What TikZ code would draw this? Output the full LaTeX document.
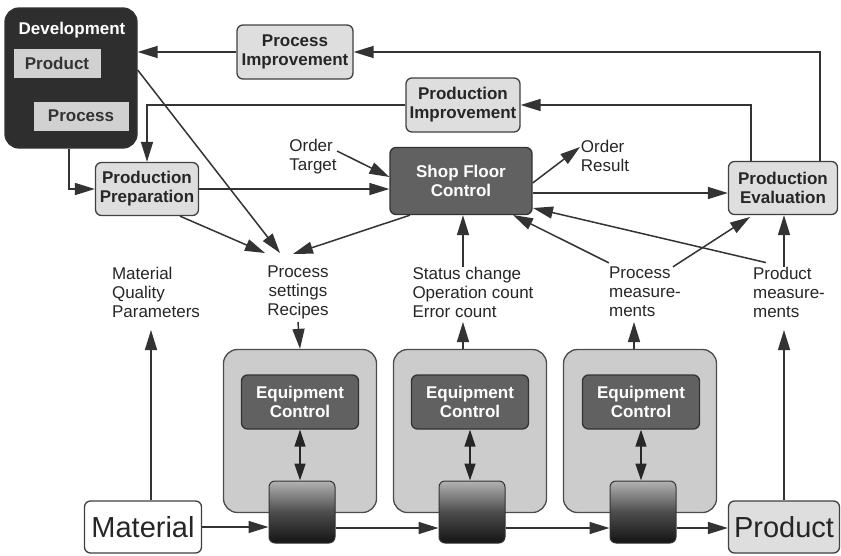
\documentclass[tikz,border=0pt]{standalone}
\usepackage{fontspec}
\setmainfont{Liberation Sans}
\usetikzlibrary{arrows.meta}
\usetikzlibrary{positioning}

\begin{document}
\begin{tikzpicture}[
    x=1pt, y=-1pt,
    every node/.style={font=\fontsize{17}{19}\selectfont, inner sep=0pt},
    lightbox/.style={draw=black!75, line width=1.3pt, rounded corners=6pt, fill=black!13, font=\fontsize{17}{19}\selectfont\bfseries, text=black!85, align=center},
    darkbox/.style={draw=black!80, line width=1.3pt, rounded corners=6pt, fill=black!62, font=\fontsize{17}{19}\selectfont\bfseries, text=white, align=center},
    innerbox/.style={fill=black!18, font=\fontsize{17}{19}\selectfont\bfseries, text=black!80},
    stationbox/.style={draw=black!70, line width=1.3pt, rounded corners=14pt, fill=black!20, minimum width=153pt, minimum height=163pt},
    machine/.style={draw=black!80, line width=1pt, rounded corners=6pt, top color=black!30, bottom color=black!92, middle color=black!70, minimum width=66pt, minimum height=62pt},
    endbox/.style={draw=black!75, line width=1.3pt, rounded corners=6pt, font=\fontsize{29}{30}\selectfont, text=black!85, minimum width=117pt, minimum height=52pt},
    infotext/.style={align=left, text=black!85},
    arr/.style={-{Triangle[length=20pt,width=12pt]}, line width=1.5pt, draw=black!80},
    darr/.style={{Triangle[length=17pt,width=11pt]}-{Triangle[length=17pt,width=11pt]}, line width=1.5pt, draw=black!85}
]
\useasboundingbox (0,0) rectangle (841,555);
% Development
\node[draw=black!80, line width=1.3pt, rounded corners=14pt, fill=black!82, minimum width=132pt, minimum height=140pt] (dev) at (71,78) {};
\node[font=\fontsize{17}{19}\selectfont\bfseries, text=white] (devtitle) at (72,30) {Development};
\node[innerbox, minimum width=87pt, minimum height=29pt] (devproduct) at (57,63) {Product};
\node[innerbox, minimum width=95pt, minimum height=29pt] (devprocess) at (81,116) {Process};
% Planning boxes
\node[lightbox, minimum width=116pt, minimum height=54pt] (procimp) at (295,52) {Process\\Improvement};
\node[lightbox, minimum width=114pt, minimum height=54pt] (prodimp) at (463,105) {Production\\Improvement};
\node[darkbox, minimum width=142pt, minimum height=67pt] (sfc) at (461,181) {Shop Floor\\Control};
\node[lightbox, minimum width=103pt, minimum height=53pt] (prep) at (147,189) {Production\\Preparation};
\node[lightbox, minimum width=109pt, minimum height=53pt] (eval) at (783,188) {Production\\Evaluation};
% Order texts
\node[infotext] (ordertarget) at (313,157) {Order\\Target};
\node[infotext] (orderresult) at (605,156) {Order\\Result};
\coordinate (otend) at (337,151);
\coordinate (orstart) at (580,147);
% Information texts
\node[infotext] (matq) at (156,292) {Material\\Quality\\Parameters};
\node[align=center, text=black!85] (settings) at (298,292) {Process\\settings\\Recipes};
\node[infotext] (status) at (473,292) {Status change\\Operation count\\Error count};
\node[infotext] (procmeas) at (645,292) {Process\\measure-\\ments};
\node[infotext] (prodmeas) at (789,292) {Product\\measure-\\ments};
% Stations
\node[stationbox] (st1) at (300,431) {};
\node[stationbox] (st2) at (470,431) {};
\node[stationbox] (st3) at (640,431) {};
\node[darkbox, minimum width=117pt, minimum height=54pt] (ec1) at (300,402) {Equipment\\Control};
\node[darkbox, minimum width=117pt, minimum height=54pt] (ec2) at (470,402) {Equipment\\Control};
\node[darkbox, minimum width=117pt, minimum height=54pt] (ec3) at (641,402) {Equipment\\Control};
\node[machine] (m1) at (302,512) {};
\node[machine] (m2) at (472,512) {};
\node[machine] (m3) at (643,512) {};
% Material and product
\node[endbox, fill=white] (material) at (143,527) {Material};
\node[endbox, fill=black!13, minimum width=111pt] (product) at (784,527) {Product};
% Feedback loops
\draw[arr] (procimp.west) -- (dev.east |- procimp.west);
\draw[arr] (eval.north -| 820,0) |- (procimp.east);
\draw[arr] (eval.north -| 751,0) |- (prodimp.east);
\draw[arr] (prodimp.west) -| (prep.north);
\draw[arr] (dev.south -| 69,0) |- (prep.west);
\draw[arr] (prep.east) -- (sfc.west |- prep.east);
\draw[arr] (sfc.east |- 0,193) -- (eval.west |- 0,193);
\draw[arr] (otend) -- (sfc.west |- 0,177);
\draw[arr] (sfc.east |- 0,183) -- (orstart);
% Process settings
\coordinate (setA) at (265,253);
\coordinate (setB) at (280,253);
\coordinate (setC) at (293,254);
\draw[arr] (prep.south -| 180,0) -- (setA);
\draw[arr] (dev.east |- 0,70) -- (setB);
\draw[arr] (sfc.south -| 410,0) -- (setC);
\draw[arr] (settings.south |- 0,322) -- (st1.north);
% Feedback data
\draw[arr] (st2.north -| 463,0) -- (463,322) coordinate (stattop);
\draw[arr] (status.north -| 463,0) -- (sfc.south -| 463,0);
\draw[arr] (procmeas.north west) ++(0,-4) -- (513,215);
\draw[arr] (prodmeas.north west) ++(13,-4) -- (533,208);
\draw[arr] (procmeas.north west) ++(64,0) -- (750,217);
\draw[arr] (prodmeas.north -| 784,0) -- (eval.south -| 784,0);
\draw[arr] (st3.north -| 634,0) -- (634,322);
\draw[arr] (product.north) -- (784,330);
\draw[arr] (material.north -| 151,0) -- (151,330);
% Equipment links
\draw[darr] (ec1.south) -- (m1.north -| ec1.south);
\draw[darr] (ec2.south) -- (m2.north -| ec2.south);
\draw[darr] (ec3.south) -- (m3.north -| ec3.south);
% Material flow
\draw[arr] (material.east) -- (m1.west |- material.east);
\draw[arr] (m1.east |- 0,528) -- (m2.west |- 0,528);
\draw[arr] (m2.east |- 0,528) -- (m3.west |- 0,528);
\draw[arr] (m3.east |- 0,528) -- (product.west |- 0,528);
\end{tikzpicture}
\end{document}
